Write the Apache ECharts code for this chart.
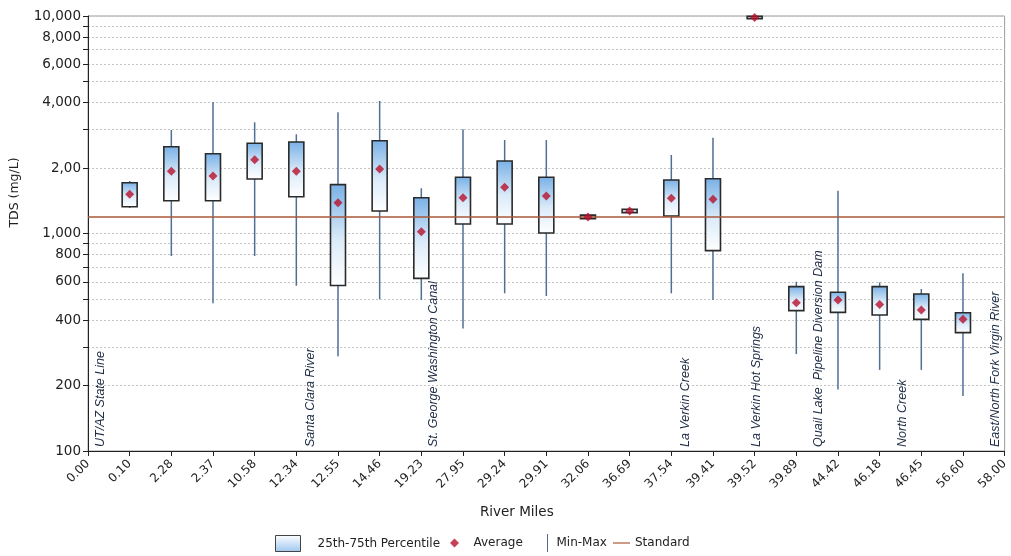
<!DOCTYPE html>
<html><head><meta charset="utf-8">
<script src="https://cdn.jsdelivr.net/npm/echarts@6/dist/echarts.min.js"></script>
<style>html,body{margin:0;padding:0;background:#fff}#c{width:1011px;height:556px}</style>
</head><body><div id="c"></div>
<script>
// ---- data ----
const categories = ['0.00','0.10','2.28','2.37','10.58','12.34','12.55','14.46','19.23','27.95','29.24','29.91','32.06','36.69','37.54','39.41','39.52','39.89','44.42','46.18','46.45','56.60','58.00'];
const minVals  = [null,1310, 788, 478, 788, 575, 273, 498, 495, 366, 531, 516,1165,1240, 531, 495,9700, 279, 192, 236, 236, 179,null];
const q1Vals   = [null,1328,1415,1415,1781,1476, 577,1269, 622,1106,1106,1005,1170,1247,1204, 834,9720, 442, 434, 422, 403, 350,null];
const q3Vals   = [null,1712,2507,2328,2598,2635,1677,2671,1461,1813,2154,1813,1215,1292,1762,1786,9960, 570, 537, 570, 527, 432,null];
const maxVals  = [null,1743,2991,4024,3246,2858,3607,4070,1614,3014,2690,2690,1220,1295,2296,2757,9980, 600,1573, 596, 556, 656,null];
const meanVals = [null,1514,1932,1838,2184,1932,1386,1980,1019,1461,1631,1487,1190,1268,1451,1436,9850, 481, 495, 472, 445, 403,null];
const standardValue = 1200;
const yGridValues = [100,200,300,400,500,600,700,800,900,1000,2000,3000,4000,5000,6000,7000,8000,9000,10000];
const yLabelValues = [100,200,400,600,800,1000,2000,4000,6000,8000,10000];
const yLabelTexts  = ['100','200','400','600','800','1,000','2,00','4,000','6,000','8,000','10,000'];
const annotationCats  = ['0.00','12.34','19.23','37.54','39.52','39.89','46.18','56.60'];
const annotationTexts = ['UT/AZ State Line','Santa Clara River','St. George Washington Canal','La Verkin Creek','La Verkin Hot Springs','Quail Lake  Pipeline Diversion Dam','North Creek','East/North Fork Virgin River'];
const seriesNames = ['25th-75th Percentile','Average','Min-Max','Standard'];

// ---- style ----
const FONT = 'DejaVu Sans';
const annotationDx = [13,14,12,14,2,22,23,33];
const boxW = 15;
const MEAN_COLOR = '#b8102c';

const boxData = [], whiskerData = [];
categories.forEach((c,i)=>{
  if (q1Vals[i] == null) return;
  boxData.push([i, q1Vals[i], q3Vals[i]]);
  whiskerData.push([i, minVals[i], maxVals[i]]);
});
const meanData = categories.map((c,i)=> meanVals[i]==null ? null : [i, meanVals[i]]).filter(d=>d);

const boxGradient = {type:'linear',x:0,y:0,x2:0,y2:1,colorStops:[{offset:0,color:'#78b0e6'},{offset:0.55,color:'#dcebf9'},{offset:1,color:'#ffffff'}]};

const chart = echarts.init(document.getElementById('c'), null, {renderer:'canvas'});
const lt = (pad)=>({fontFamily:FONT,fontSize:12,color:'#222',lineHeight:16,padding:[0,0,0,pad]});
const legendBase = {selectedMode:false, top:535, padding:0};
chart.setOption({
  animation:false,
  backgroundColor:'#fff',
  grid:{left:87,right:4,top:16,bottom:105,show:true,borderColor:'#9a9a9a',borderWidth:1,backgroundColor:'#fff'},
  legend:[
    Object.assign({}, legendBase, {left:275, itemWidth:25, itemHeight:16, textStyle:lt(12),
      data:[{name:seriesNames[0], icon:'rect', itemStyle:{color:{type:'linear',x:0,y:0,x2:0,y2:1,colorStops:[{offset:0,color:'#ffffff'},{offset:1,color:'#9cc6ee'}]}, borderColor:'#444', borderWidth:1}}]}),
    Object.assign({}, legendBase, {left:450, itemWidth:10, itemHeight:9, textStyle:lt(9),
      data:[{name:seriesNames[1], icon:'path://M5,0L10,5L5,10L0,5Z', itemStyle:{color:MEAN_COLOR}}]}),
    Object.assign({}, legendBase, {left:547, top:534, itemWidth:2, itemHeight:18, textStyle:lt(3),
      data:[{name:seriesNames[2], icon:'path://M0,0H1V18H0Z', itemStyle:{color:'#4f6f93'}}]}),
    Object.assign({}, legendBase, {left:613, itemWidth:17, itemHeight:2, textStyle:lt(0),
      data:[{name:seriesNames[3], icon:'path://M0,0H17V1.2H0Z', itemStyle:{color:'#a9593a'}}]})
  ],
  xAxis:{
    type:'category', data:categories, boundaryGap:false,
    name:'River Miles', nameLocation:'middle', nameGap:54,
    nameTextStyle:{fontFamily:FONT,fontSize:13.5,color:'#222',padding:[0,59,0,0]},
    axisLine:{lineStyle:{color:'#222',width:1}},
    axisTick:{show:true,interval:0,length:5,lineStyle:{color:'#222'}},
    axisLabel:{interval:0,rotate:45,fontFamily:FONT,fontSize:12,color:'#222',margin:11},
    splitLine:{show:false}
  },
  yAxis:{
    type:'log', logBase:10, min:100, max:10000,
    name:'TDS (mg/L)', nameLocation:'middle', nameGap:67, nameRotate:90,
    nameTextStyle:{fontFamily:FONT,fontSize:12.5,color:'#222',padding:[0,0,0,82]},
    axisLine:{show:true,lineStyle:{color:'#222',width:1}},
    axisTick:{show:true,length:5,customValues:yGridValues,lineStyle:{color:'#222'}},
    axisLabel:{customValues:yLabelValues,fontFamily:FONT,fontSize:13.5,color:'#222',margin:7,
      formatter:(v)=>{const k=yLabelValues.findIndex(x=>Math.abs(x-v)<1e-6*x);return k>=0?yLabelTexts[k]:'';}},
    splitLine:{show:true,lineStyle:{color:'#c4c4c4',type:[2,2],width:1}},
    minorTick:{show:false}
  },
  series:[
    {
      name:seriesNames[2], type:'custom', z:2, data:whiskerData,
      encode:{x:0,y:[1,2]},
      renderItem:(params, api)=>{
        const p1 = api.coord([api.value(0), api.value(1)]);
        const p2 = api.coord([api.value(0), api.value(2)]);
        return {type:'line', shape:{x1:p1[0],y1:p1[1],x2:p2[0],y2:p2[1]}, style:{stroke:'#4f6f93',lineWidth:1.5}};
      }
    },
    {
      name:seriesNames[0], type:'custom', z:3, data:boxData,
      encode:{x:0,y:[1,2]},
      itemStyle:{color:'#9cc6ee'},
      renderItem:(params, api)=>{
        const pb = api.coord([api.value(0), api.value(1)]);
        const pt = api.coord([api.value(0), api.value(2)]);
        return {type:'rect', shape:{x:pt[0]-boxW/2, y:pt[1], width:boxW, height:Math.max(pb[1]-pt[1],1)},
          style:{fill:boxGradient, stroke:'#2a2a2a', lineWidth:1.6}};
      }
    },
    {
      name:seriesNames[3], type:'line', z:4, data:[], symbol:'none',
      lineStyle:{color:'#a9593a'}, itemStyle:{color:'#a9593a'},
      markLine:{silent:true, symbol:['none','none'], label:{show:false}, animation:false,
        lineStyle:{color:'#a9593a', width:1.5, type:'solid'}, data:[{yAxis:standardValue}]}
    },
    {
      name:seriesNames[1], type:'scatter', z:5, data:meanData,
      symbol:'diamond', symbolSize:9, itemStyle:{color:MEAN_COLOR}
    }
  ]
});

// annotations (vertical italic labels placed through the chart's own scales)
const g = annotationCats.map((c,k)=>{
  const p = chart.convertToPixel({gridIndex:0}, [c, 100]);
  return {type:'text', x:p[0]+annotationDx[k], y:p[1]-4, rotation:Math.PI/2, z:10,
    style:{text:annotationTexts[k], fill:'#1d2b44', font:'italic 12.5px "Liberation Sans"', align:'left', verticalAlign:'middle'}};
});
chart.setOption({graphic:g});
</script>
</body></html>
